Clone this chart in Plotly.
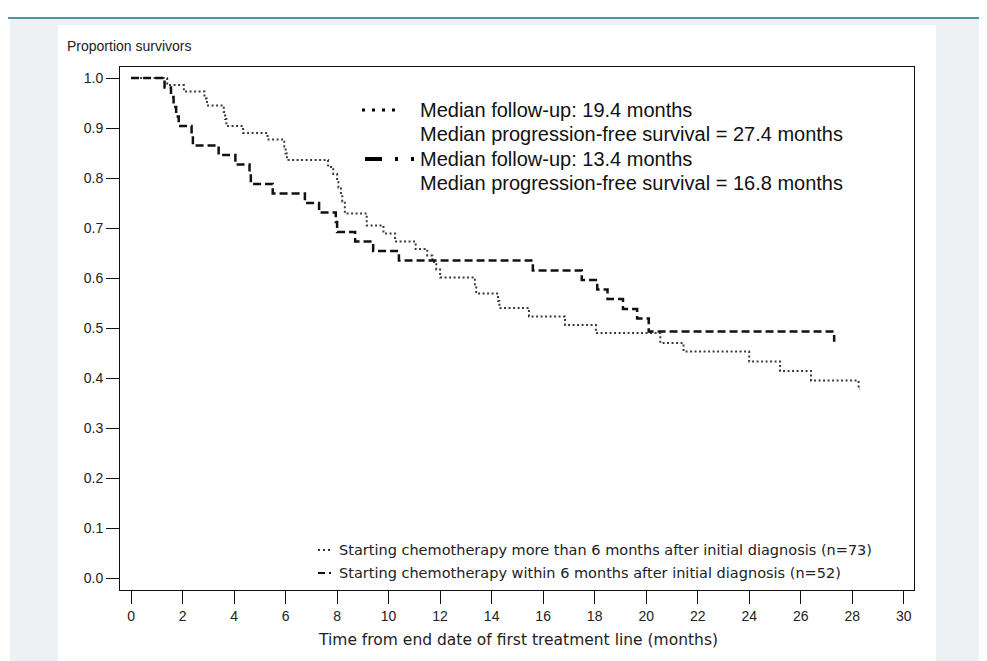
import plotly.graph_objects as go

# ---------------- data ----------------
# Group starting chemotherapy within 6 months (n=52) - dashed line
t_within = [0, 1.3, 1.55, 1.65, 1.75, 1.85, 2.35, 2.4, 3.4, 4.05, 4.6, 4.65, 5.5,
            6.75, 7.3, 7.95, 8.0, 8.7, 9.4, 10.4, 15.6, 17.5, 18.1, 18.5, 19.1,
            19.65, 20.1, 27.3, 27.35]
s_within = [1.0, 0.981, 0.962, 0.942, 0.923, 0.904, 0.885, 0.865, 0.846, 0.827,
            0.808, 0.788, 0.769, 0.750, 0.731, 0.712, 0.692, 0.673, 0.654, 0.635,
            0.615, 0.596, 0.577, 0.558, 0.538, 0.519, 0.493, 0.475, 0.475]

# Group starting chemotherapy more than 6 months (n=73) - dotted line
t_more = [0, 1.4, 2.05, 2.85, 2.95, 3.6, 3.65, 3.7, 4.35, 5.3, 5.95, 6.0, 6.05,
          7.65, 7.85, 8.0, 8.05, 8.15, 8.2, 8.3, 9.15, 9.8, 10.25, 11.05, 11.5,
          11.7, 11.85, 12.0, 13.35, 13.4, 14.25, 14.3, 15.45, 16.85, 18.05,
          20.55, 21.45, 24.0, 25.2, 26.4, 28.25, 28.3]
s_more = [1.0, 0.986, 0.973, 0.959, 0.945, 0.932, 0.918, 0.904, 0.890, 0.877,
          0.863, 0.849, 0.836, 0.822, 0.808, 0.795, 0.781, 0.767, 0.753, 0.729,
          0.705, 0.689, 0.673, 0.658, 0.645, 0.632, 0.617, 0.601, 0.585, 0.569,
          0.554, 0.540, 0.523, 0.506, 0.490, 0.470, 0.453, 0.433, 0.414, 0.395,
          0.378, 0.378]

x_ticks = list(range(0, 31, 2))
y_ticks = [0.0, 0.1, 0.2, 0.3, 0.4, 0.5, 0.6, 0.7, 0.8, 0.9, 1.0]
y_ticktext = ["0.0", "0.1", "0.2", "0.3", "0.4", "0.5", "0.6", "0.7", "0.8", "0.9", "1.0"]

legend_more = "Starting chemotherapy more than 6 months after initial diagnosis (n=73)"
legend_within = "Starting chemotherapy within 6 months after initial diagnosis (n=52)"
info_lines = ["Median follow-up: 19.4 months",
              "Median progression-free survival = 27.4 months",
              "Median follow-up: 13.4 months",
              "Median progression-free survival = 16.8 months"]
y_title = "Proportion survivors"
x_title = "Time from end date of first treatment line (months)"

# ---------------- layout geometry (window pixels) ----------------
OFF = 8                      # default body margin of the html page
W, H = 987 - OFF, 661 - OFF  # figure size so it exactly fills the window
L, R, T, B = 120 - OFF, 914 - OFF, 67 - OFF, 590 - OFF   # plot frame in figure px


def px(xw):
    """window x pixel -> paper x"""
    return (xw - OFF - L) / (R - L)


def py(yw):
    """window y pixel -> paper y"""
    return (B - (yw - OFF)) / (B - T)


FONT = "Liberation Sans, Arial, sans-serif"
FONT2 = "DejaVu Sans, Verdana, sans-serif"

fig = go.Figure()
fig.add_trace(go.Scatter(x=t_more, y=s_more, mode="lines", line_shape="hv",
                         line=dict(color="#3a3a3a", width=2, dash="2px,2.5px"),
                         showlegend=False, hoverinfo="skip"))
fig.add_trace(go.Scatter(x=t_within, y=s_within, mode="lines", line_shape="hv",
                         line=dict(color="#111111", width=2.5, dash="8px,4px"),
                         showlegend=False, hoverinfo="skip"))

shapes = [
    # teal top rule
    dict(type="rect", xref="paper", yref="paper", x0=px(0), x1=px(1000), y0=py(19), y1=py(17),
         fillcolor="#4a97a6", line_width=0, layer="below"),
    # grey page background
    dict(type="rect", xref="paper", yref="paper", x0=px(10), x1=px(1000), y0=py(670), y1=py(19),
         fillcolor="#edf1f4", line_width=0, layer="below"),
    # white panel
    dict(type="rect", xref="paper", yref="paper", x0=px(58), x1=px(936), y0=py(670), y1=py(25),
         fillcolor="white", line_width=0, layer="below"),
    # info-block line samples
    dict(type="line", xref="paper", yref="paper", x0=px(362), x1=px(398), y0=py(110), y1=py(110),
         line=dict(color="black", width=3, dash="3px,7px")),
    dict(type="line", xref="paper", yref="paper", x0=px(365), x1=px(414), y0=py(159), y1=py(159),
         line=dict(color="black", width=4, dash="17px,13px,3px,13px")),
    # bottom legend line samples
    dict(type="line", xref="paper", yref="paper", x0=px(318), x1=px(333), y0=py(550), y1=py(550),
         line=dict(color="#333333", width=2, dash="2px,3px")),
    dict(type="line", xref="paper", yref="paper", x0=px(318), x1=px(333), y0=py(573), y1=py(573),
         line=dict(color="#111111", width=2, dash="7px,4px,2px,10px")),
]

annotations = [
    dict(text=y_title, xref="paper", yref="paper", x=px(65), y=py(46), xanchor="left",
         yanchor="middle", showarrow=False, font=dict(family=FONT, size=14, color="#222")),
    dict(text=x_title, xref="paper", yref="paper", x=px(518), y=py(640), xanchor="center",
         yanchor="middle", showarrow=False, font=dict(family=FONT2, size=15.5, color="#222")),
    dict(text=legend_more, xref="paper", yref="paper", x=px(337), y=py(550), xanchor="left",
         yanchor="middle", showarrow=False, font=dict(family=FONT2, size=14.5, color="#222")),
    dict(text=legend_within, xref="paper", yref="paper", x=px(337), y=py(573), xanchor="left",
         yanchor="middle", showarrow=False, font=dict(family=FONT2, size=14.5, color="#222")),
]
for line, ypix in zip(info_lines, [110, 134.5, 159, 183]):
    annotations.append(dict(text=line, xref="paper", yref="paper", x=px(418), y=py(ypix),
                            xanchor="left", yanchor="middle", showarrow=False,
                            font=dict(family=FONT, size=20, color="#111")))

fig.update_layout(
    width=W, height=H,
    margin=dict(l=L, r=W - R, t=T, b=H - B, pad=0),
    paper_bgcolor="white", plot_bgcolor="white",
    shapes=shapes, annotations=annotations,
    font=dict(family=FONT, size=14, color="#222"),
)
axis_common = dict(showgrid=False, zeroline=False, showline=True, mirror=True,
                   linecolor="#111", linewidth=1, ticks="outside", ticklen=13,
                   tickwidth=1, tickcolor="#111",
                   tickfont=dict(family=FONT, size=14, color="#222"))
fig.update_xaxes(range=[-0.43, 30.4], tickvals=x_ticks, **axis_common)
fig.update_yaxes(range=[-0.024, 1.022], tickvals=y_ticks, ticktext=y_ticktext, **axis_common)

fig.write_html("out.html")
